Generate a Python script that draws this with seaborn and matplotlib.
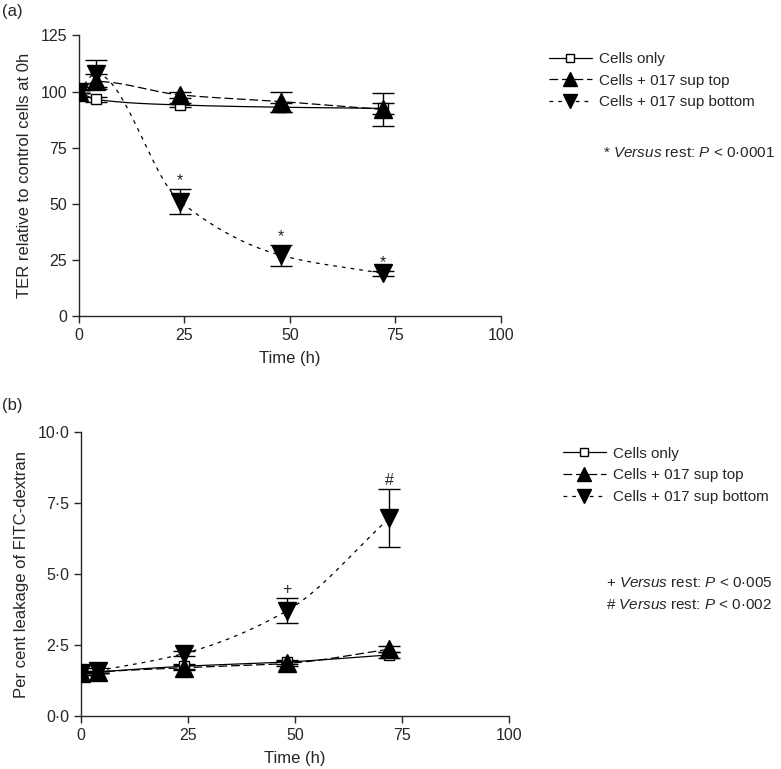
import numpy as np
import pandas as pd
import seaborn as sns
import matplotlib
import matplotlib.pyplot as plt
from matplotlib.lines import Line2D
from matplotlib.ticker import FuncFormatter
matplotlib.use('Agg')

# time points (h)
time_h = [0, 4, 24, 48, 72]

# panel (a): TER relative to control cells at 0 h
ter_cells = [100, 96.5, 94, 93, 92.5]
ter_cells_err = [0.5, 1, 1, 2, 2.5]
ter_top = [100, 104.5, 98.5, 95.5, 92]
ter_top_err = [0.5, 3.5, 1.5, 4.5, 7.5]
ter_bottom = [100, 108, 51, 27, 19]
ter_bottom_err = [0.5, 6, 5.5, 4.5, 1]
ter_marks = [(24, '*'), (48, '*'), (72, '*')]

# panel (b): per cent leakage of FITC-dextran
fitc_cells = [1.5, 1.55, 1.75, 1.9, 2.15]
fitc_cells_err = [0.05, 0.05, 0.08, 0.08, 0.1]
fitc_top = [1.5, 1.55, 1.7, 1.85, 2.35]
fitc_top_err = [0.05, 0.05, 0.08, 0.08, 0.1]
fitc_bottom = [1.5, 1.6, 2.2, 3.7, 6.97]
fitc_bottom_err = [0.05, 0.08, 0.1, 0.44, 1.02]
fitc_marks = [(48, '+'), (72, '#')]

labels = ['Cells only', 'Cells + 017 sup top', 'Cells + 017 sup bottom']


def smooth(x, y, n=300):
    # shape-preserving cubic hermite through the points, for the connecting line
    x = np.asarray(x, float)
    y = np.asarray(y, float)
    h = np.diff(x)
    d = np.diff(y) / h
    m = np.zeros_like(y)
    m[0], m[-1] = d[0], d[-1]
    for i in range(1, len(x) - 1):
        if d[i - 1] * d[i] > 0:
            w1 = 2 * h[i] + h[i - 1]
            w2 = h[i] + 2 * h[i - 1]
            m[i] = (w1 + w2) / (w1 / d[i - 1] + w2 / d[i])
    xs = np.linspace(x[0], x[-1], n)
    idx = np.clip(np.searchsorted(x, xs) - 1, 0, len(x) - 2)
    t = (xs - x[idx]) / h[idx]
    h00 = 2 * t**3 - 3 * t**2 + 1
    h10 = t**3 - 2 * t**2 + t
    h01 = -2 * t**3 + 3 * t**2
    h11 = t**3 - t**2
    ys = h00 * y[idx] + h10 * h[idx] * m[idx] + h01 * y[idx + 1] + h11 * h[idx] * m[idx + 1]
    return xs, ys


sns.set_style('ticks')
plt.rcParams['font.family'] = ['Liberation Sans', 'DejaVu Sans']
plt.rcParams['mathtext.fontset'] = 'custom'
plt.rcParams['mathtext.rm'] = 'Liberation Sans'
plt.rcParams['mathtext.it'] = 'Liberation Sans:italic'

fig = plt.figure(figsize=(7.81, 7.69), dpi=100)
ax_a = fig.add_axes([0.101, 0.589, 0.540, 0.365])
ax_b = fig.add_axes([0.104, 0.069, 0.548, 0.369])

styles = [
    dict(marker='s', ms=7, mfc='white', ls='-', dashes=None),
    dict(marker='^', ms=13, mfc='black', ls='--', dashes=(7, 3)),
    dict(marker='v', ms=13, mfc='black', ls='--', dashes=(3, 4)),
]


def draw_panel(ax, series, errs, marks, mark_off):
    for vals, err, st in zip(series, errs, styles):
        xs, ys = smooth(time_h, vals)
        sns.lineplot(x=xs, y=ys, ax=ax, color='black', lw=0.9,
                     estimator=None, sort=False)
        ln = ax.lines[-1]
        if st['dashes'] is not None:
            ln.set_dashes(st['dashes'])
        ax.errorbar(time_h, vals, yerr=err, fmt='none', ecolor='black',
                    elinewidth=1, capsize=8, capthick=1, zorder=3)
    for vals, st in zip(series, styles):
        ax.plot(time_h, vals, ls='none', marker=st['marker'], ms=st['ms'],
                mfc=st['mfc'], mec='black', mew=1, zorder=4)
    bottom = series[2]
    for t, sym in marks:
        yv = bottom[time_h.index(t)] + errs[2][time_h.index(t)] + mark_off
        ax.text(t, yv, sym, ha='center', va='bottom', fontsize=11.5)
    ax.set_xlim(0, 100)
    ax.set_xticks([0, 25, 50, 75, 100])
    ax.set_xlabel('Time (h)', fontsize=12, labelpad=6)
    ax.tick_params(labelsize=11.5, direction='out', length=5, width=1)
    for s in ['left', 'bottom']:
        ax.spines[s].set_linewidth(1)
    sns.despine(ax=ax)


draw_panel(ax_a, [ter_cells, ter_top, ter_bottom],
           [ter_cells_err, ter_top_err, ter_bottom_err], ter_marks, 0.5)
ax_a.set_ylim(0, 125)
ax_a.set_yticks([0, 25, 50, 75, 100, 125])
ax_a.set_ylabel('TER relative to control cells at 0h', fontsize=12, labelpad=6)

draw_panel(ax_b, [fitc_cells, fitc_top, fitc_bottom],
           [fitc_cells_err, fitc_top_err, fitc_bottom_err], fitc_marks, 0.05)
ax_b.set_ylim(0, 10)
ax_b.set_yticks([0, 2.5, 5, 7.5, 10])
ax_b.yaxis.set_major_formatter(FuncFormatter(lambda v, p: f'{v:.1f}'.replace('.', '·')))
ax_b.set_ylabel('Per cent leakage of FITC-dextran', fontsize=12, labelpad=6)

fig.text(0.003, 0.985, '(a)', fontsize=12, va='center')
fig.text(0.003, 0.473, '(b)', fontsize=12, va='center')


def handles():
    hs = []
    for st in styles:
        h = Line2D([0], [0], color='black', lw=0.9, marker=st['marker'],
                   ms=st['ms'] * 0.8, mfc=st['mfc'], mec='black')
        if st['dashes'] is not None:
            h.set_dashes(st['dashes'])
        hs.append(h)
    return hs


fig.legend(handles(), labels, loc='upper left', bbox_to_anchor=(0.685, 0.95),
           frameon=False, fontsize=11, handlelength=2.8, labelspacing=0.5,
           handletextpad=0.5)
fig.legend(handles(), labels, loc='upper left', bbox_to_anchor=(0.703, 0.437),
           frameon=False, fontsize=11, handlelength=2.8, labelspacing=0.5,
           handletextpad=0.5)

fig.text(0.772, 0.801, r'* $\it{Versus}$ rest: $\it{P}$ < 0·0001', fontsize=11, va='center')
fig.text(0.776, 0.242, r'+ $\it{Versus}$ rest: $\it{P}$ < 0·005', fontsize=11, va='center')
fig.text(0.776, 0.213, r'# $\it{Versus}$ rest: $\it{P}$ < 0·002', fontsize=11, va='center')

fig.savefig('out.png', dpi=100)
